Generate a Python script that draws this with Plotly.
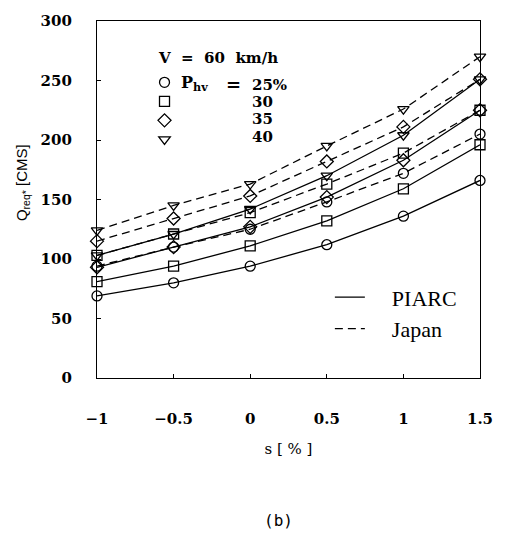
import plotly.graph_objects as go

s = [-1, -0.5, 0, 0.5, 1, 1.5]

piarc_25 = [69, 80, 94, 112, 136, 166]
piarc_30 = [81, 94, 111, 132, 159, 196]
piarc_35 = [93, 110, 127, 152, 183, 225]
piarc_40 = [103, 121, 142, 170, 204, 251]

japan_25 = [94, 110, 125, 148, 172, 205]
japan_30 = [103, 121, 139, 163, 189, 225]
japan_35 = [115, 134, 153, 182, 211, 251]
japan_40 = [124, 145, 163, 195, 226, 270]

phv_labels = ["25%", "30", "35", "40"]
symbols = ["circle-open", "square-open", "diamond-open", "triangle-down-open"]
x_ticks = [-1, -0.5, 0, 0.5, 1, 1.5]
x_ticktext = ["\u22121", "\u22120.5", "0", "0.5", "1", "1.5"]
y_ticks = [0, 50, 100, 150, 200, 250, 300]

fig = go.Figure()

piarc = [piarc_25, piarc_30, piarc_35, piarc_40]
japan = [japan_25, japan_30, japan_35, japan_40]

for vals, sym in zip(piarc, symbols):
    fig.add_trace(go.Scatter(
        x=s, y=vals, mode="lines+markers",
        line=dict(color="black", width=1.3),
        marker=dict(symbol=sym, size=10, color="black", line=dict(width=1.3, color="black")),
        cliponaxis=False, showlegend=False))

for vals, sym in zip(japan, symbols):
    fig.add_trace(go.Scatter(
        x=s, y=vals, mode="lines+markers",
        line=dict(color="black", width=1.3, dash="8px,5px"),
        marker=dict(symbol=sym, size=10, color="black", line=dict(width=1.3, color="black")),
        cliponaxis=False, showlegend=False))

# legend entries for methods
fig.add_trace(go.Scatter(x=[None], y=[None], mode="lines",
                         line=dict(color="black", width=1.3),
                         name="\u00a0\u00a0\u00a0\u00a0PIARC", legend="legend"))
fig.add_trace(go.Scatter(x=[None], y=[None], mode="lines",
                         line=dict(color="black", width=1.3, dash="8px,5px"),
                         name="\u00a0\u00a0\u00a0\u00a0Japan", legend="legend"))

# legend entries for heavy-vehicle share symbols
for sym in symbols:
    fig.add_trace(go.Scatter(x=[None], y=[None], mode="markers",
                             marker=dict(symbol=sym, size=10, color="black",
                                         line=dict(width=1.3, color="black")),
                             name=" ", legend="legend2"))

def px2x(px):
    return -1 + (px - 97) / 395 * 2.5

def py2y(py):
    return (378 - py) / 362 * 300

annotations = []
annotations.append(dict(x=px2x(158), y=py2y(54), xref="x", yref="y",
                        text="V\u00a0 =\u00a0 60\u00a0 km/h",
                        showarrow=False, xanchor="left", yanchor="middle",
                        font=dict(family="DejaVu Serif", size=15, color="black", weight="bold")))
row_py = [80.5, 98, 115.5, 133.5]
for lab, py in zip(phv_labels, row_py):
    annotations.append(dict(x=px2x(255), y=py2y(py), xref="x", yref="y",
                            text=lab, showarrow=False,
                            xanchor="left", yanchor="middle",
                            font=dict(family="DejaVu Serif", size=15, color="black", weight="bold")))
annotations.append(dict(x=px2x(182), y=py2y(row_py[0] - 1), xref="x", yref="y",
                        text="P<sub>hv</sub>", showarrow=False,
                        xanchor="left", yanchor="middle",
                        font=dict(family="DejaVu Serif", size=16, color="black", weight="bold")))
annotations.append(dict(x=px2x(238), y=py2y(row_py[0]), xref="x", yref="y",
                        text="=", showarrow=False,
                        xanchor="center", yanchor="middle",
                        font=dict(family="DejaVu Serif", size=18, color="black", weight="bold")))
annotations.append(dict(x=(20 - 97) / 395, y=(378 - 180) / 362, xref="paper", yref="paper",
                        text="Q<sub>req*</sub> [CMS]", showarrow=False, textangle=-90,
                        xanchor="center", yanchor="middle",
                        font=dict(family="Liberation Sans", size=15, color="black")))
annotations.append(dict(x=0.5 - 10 / 395, y=(378 - 523) / 362, xref="paper", yref="paper",
                        text="(b)", showarrow=False, xanchor="center", yanchor="middle",
                        font=dict(family="DejaVu Sans Mono", size=16, color="black")))

fig.update_layout(
    width=505, height=534,
    margin=dict(l=97, r=13, t=16, b=156),
    paper_bgcolor="white", plot_bgcolor="white",
    annotations=annotations,
    legend=dict(x=0.608, y=0.285, xanchor="left", yanchor="top",
                bgcolor="rgba(0,0,0,0)",
                font=dict(family="Liberation Serif", size=22, color="black"),
                tracegroupgap=0),
    legend2=dict(x=(146 - 97) / 395, y=(378 - 63.5) / 362, xanchor="left", yanchor="top",
                 bgcolor="rgba(0,0,0,0)",
                 font=dict(family="DejaVu Serif", size=10, color="black"),
                 tracegroupgap=0),
    xaxis=dict(range=[-1, 1.5], tickvals=x_ticks, ticktext=x_ticktext,
               showgrid=False, zeroline=False, showline=True, linecolor="black", linewidth=1.3,
               mirror=True, ticks="inside", ticklen=4, tickcolor="black",
               ticklabelstandoff=27, ticklabeloverflow="allow",
               tickfont=dict(family="DejaVu Serif", size=15, color="black", weight="bold"),
               title=dict(text="s [ % ]", standoff=16,
                          font=dict(family="DejaVu Serif", size=15, color="black"))),
    yaxis=dict(range=[0, 300], tickvals=y_ticks,
               showgrid=False, zeroline=False, showline=True, linecolor="black", linewidth=1.3,
               mirror=True, ticks="inside", ticklen=4, tickcolor="black",
               ticklabelstandoff=21,
               tickfont=dict(family="DejaVu Serif", size=15, color="black", weight="bold")),
)

fig.write_html("out.html")
